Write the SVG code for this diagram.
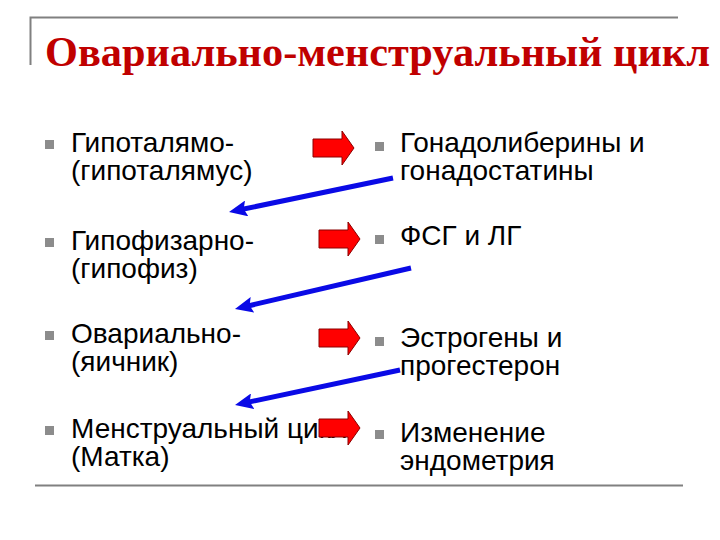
<svg xmlns="http://www.w3.org/2000/svg" width="720" height="540" viewBox="0 0 720 540">
<style>
.frame{stroke:#808080;stroke-width:2;fill:none}
.title{font-family:"Liberation Serif","Times New Roman",serif;font-weight:bold;font-size:43px;fill:#C00000}
.t{font-family:"Liberation Sans",Arial,sans-serif;font-size:28px;fill:#000}
.b{fill:#8C8C8C}
.red{fill:#FF0000;stroke:#8B0000;stroke-width:1}
.blue{stroke:#0A0AE6;stroke-width:5;fill:none;marker-end:url(#bh)}
</style>
<defs>
<marker id="bh" markerUnits="userSpaceOnUse" markerWidth="19" markerHeight="16" refX="8" refY="8" orient="auto" viewBox="0 0 19 16">
<path d="M0,0 L18,8 L0,16 L3,8 Z" fill="#0A0AE6"/>
</marker>
<path id="ra" d="M0,-9 H29 V-17 L41,0 L29,17 V9 H0 Z"/>
</defs>
<rect width="720" height="540" fill="#fff"/>
<g id="title">
<path class="frame" d="M30.5,65 V17.5 H678"/>
<text class="title" x="45" y="66" textLength="665" lengthAdjust="spacingAndGlyphs">Овариально-менструальный цикл</text>
</g>
<path class="frame" d="M35,485.5 H683"/>
<g id="n1"><rect class="b" x="45" y="140" width="9" height="9"/><text class="t" x="71" y="152">Гипоталямо-</text><text class="t" x="71" y="180">(гипоталямус)</text></g>
<g id="n2"><rect class="b" x="45" y="238" width="9" height="9"/><text class="t" x="71" y="250">Гипофизарно-</text><text class="t" x="71" y="278">(гипофиз)</text></g>
<g id="n3"><rect class="b" x="45" y="331" width="9" height="9"/><text class="t" x="71" y="343">Овариально-</text><text class="t" x="71" y="371">(яичник)</text></g>
<g id="n4"><rect class="b" x="45" y="426" width="9" height="9"/><text class="t" x="71" y="438">Менструальный цикл</text><text class="t" x="71" y="466">(Матка)</text></g>
<g id="r1"><rect class="b" x="375" y="142" width="9" height="9"/><text class="t" x="400" y="152">Гонадолиберины и</text><text class="t" x="400" y="180">гонадостатины</text></g>
<g id="r2"><rect class="b" x="375" y="235" width="9" height="9"/><text class="t" x="400" y="245">ФСГ и ЛГ</text></g>
<g id="r3"><rect class="b" x="375" y="337" width="9" height="9"/><text class="t" x="400" y="347">Эстрогены и</text><text class="t" x="400" y="375">прогестерон</text></g>
<g id="r4"><rect class="b" x="375" y="430" width="9" height="9"/><text class="t" x="400" y="442">Изменение</text><text class="t" x="400" y="470">эндометрия</text></g>
<g id="connectors">
<use href="#ra" class="red" transform="translate(313,148)"/>
<use href="#ra" class="red" transform="translate(319,239)"/>
<use href="#ra" class="red" transform="translate(319,338)"/>
<use href="#ra" class="red" transform="translate(319,428)"/>
<line class="blue" x1="393" y1="178" x2="238.8" y2="210"/>
<line class="blue" x1="411" y1="268" x2="244.7" y2="306.7"/>
<line class="blue" x1="400" y1="370" x2="244.8" y2="402.9"/>
</g>
</svg>
